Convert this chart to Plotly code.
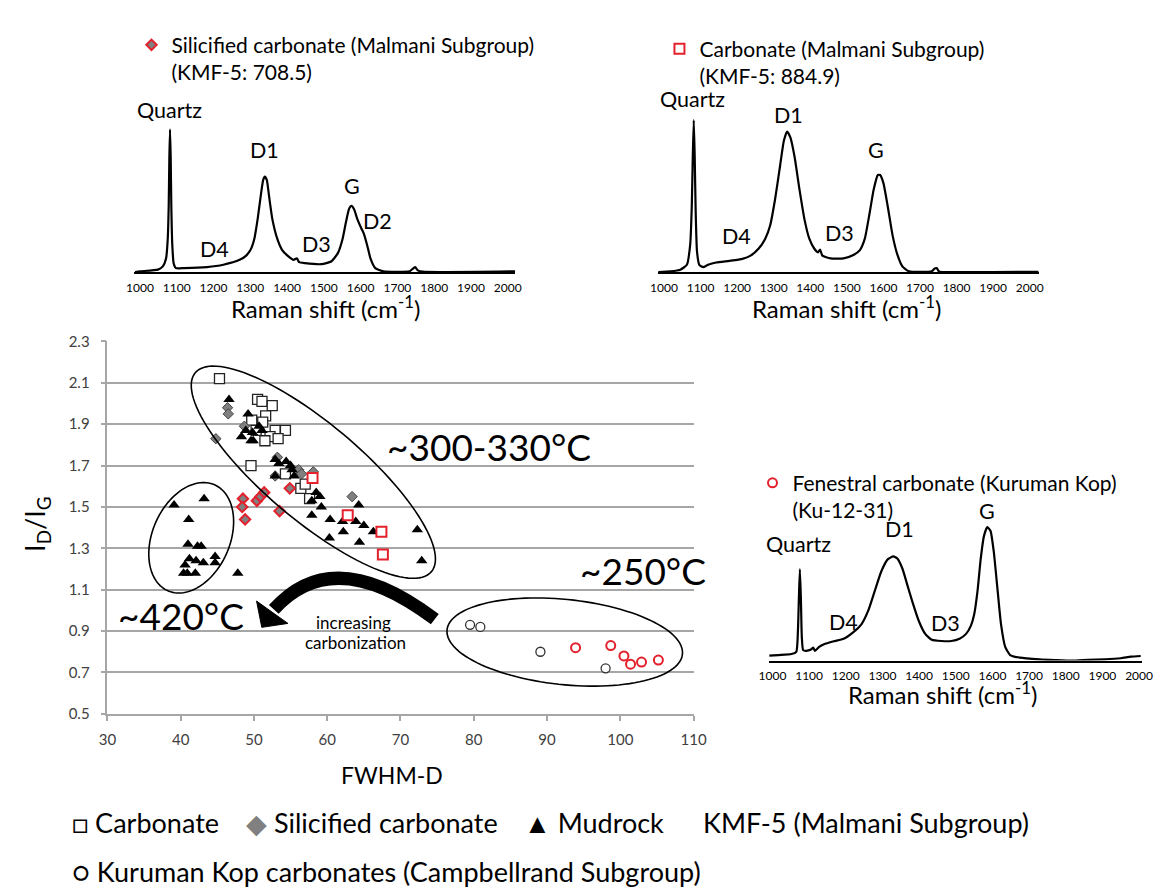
import numpy as np
import plotly.graph_objects as go

W, H = 1173, 893
FONT = "Lato"

# ---------------- I_D/I_G versus FWHM-D ----------------
carb_fwhm = [45.3, 50.5, 51.1, 52.5, 51.6, 49.7, 51.2, 50.3, 52.9, 54.3, 52.2, 53.3, 51.5, 49.6, 54.3, 56.4, 57.0, 57.6]
carb_ratio = [2.12, 2.02, 2.01, 1.99, 1.94, 1.92, 1.91, 1.87, 1.87, 1.87, 1.84, 1.83, 1.82, 1.70, 1.66, 1.59, 1.61, 1.54]

carb884_fwhm = [58.0, 62.8, 67.4, 67.6]
carb884_ratio = [1.64, 1.46, 1.38, 1.27]

silic_fwhm = [46.4, 46.5, 44.8, 48.7, 53.2, 56.1, 56.5, 58.1, 63.4, 52.9]
silic_ratio = [1.98, 1.95, 1.83, 1.89, 1.74, 1.68, 1.66, 1.67, 1.55, 1.65]

silic708_fwhm = [48.5, 48.4, 48.8, 50.4, 50.9, 51.4, 53.5, 54.9]
silic708_ratio = [1.54, 1.50, 1.44, 1.53, 1.55, 1.57, 1.48, 1.59]

mud_fwhm = [46.6, 49.2, 48.9, 49.8, 51.1, 48.3, 49.9, 50.7, 49.6,
            52.9, 54.4, 55.0, 52.9, 55.5, 55.2, 53.4,
            58.5, 59.0, 57.9, 59.2, 57.9, 60.4, 62.1, 63.9, 64.3, 65.0, 62.2, 66.3, 60.3, 64.4, 72.3, 72.9,
            47.8,
            39.1, 43.2, 41.1, 41.0, 42.3, 42.8, 41.2, 42.1, 43.1, 44.7, 44.7, 40.6, 40.4, 40.9, 42.0]
mud_ratio = [2.02, 1.95, 1.87, 1.86, 1.87, 1.84, 1.82, 1.89, 1.82,
             1.73, 1.72, 1.70, 1.65, 1.65, 1.68, 1.71,
             1.57, 1.55, 1.53, 1.50, 1.46, 1.44, 1.43, 1.43, 1.51, 1.41, 1.38, 1.38, 1.35, 1.33, 1.39, 1.24,
             1.18,
             1.51, 1.54, 1.44, 1.32, 1.31, 1.31, 1.25, 1.24, 1.23, 1.26, 1.23, 1.22, 1.18, 1.18, 1.18]

kk_fwhm = [79.5, 80.9, 89.1, 98.0]
kk_ratio = [0.93, 0.92, 0.80, 0.72]

ku1231_fwhm = [93.9, 98.7, 100.5, 101.4, 102.9, 105.2]
ku1231_ratio = [0.82, 0.83, 0.78, 0.74, 0.75, 0.76]

x_ticks = list(range(30, 111, 10))
y_ticks = [0.5, 0.7, 0.9, 1.1, 1.3, 1.5, 1.7, 1.9, 2.1, 2.3]

# ---------------- Raman spectra (shift in cm-1, intensity a.u.) ----------------
s708_shift = [986.7, 1000, 1048.9, 1062.2, 1071.1, 1075.6, 1078.2, 1080, 1081.8, 1083.6, 1085.3, 1088,
              1091.6, 1097.8, 1120, 1182.2, 1226.7, 1271.1, 1288.9, 1300.4, 1311.1, 1320, 1328.9, 1335.1,
              1339.6, 1344.9, 1351.1, 1360, 1373.3, 1386.7, 1404.4, 1417.8, 1426.7, 1432.9, 1448.9, 1493.3,
              1520, 1537.8, 1551.1, 1560, 1568.9, 1575.1, 1582.2, 1591.1, 1601.8, 1608.9, 1617.8, 1626.7,
              1640, 1662.2, 1733.3, 1742.2, 1748.4, 1755.6, 1768.9, 2020]
s708_int = [0.3, 1.0, 2.7, 6.0, 14.3, 34.3, 67.7, 117.7, 146.0, 117.7, 67.7, 27.7,
            9.3, 4.3, 4.3, 5.3, 7.7, 12.7, 17.0, 22.7, 34.3, 54.3, 79.3, 94.3,
            97.7, 94.3, 77.7, 54.3, 34.3, 22.7, 16.0, 12.7, 14.3, 10.3, 9.3, 8.3,
            11.0, 19.3, 34.3, 51.0, 65.0, 67.7, 64.3, 54.3, 45.0, 39.3, 27.7, 14.3,
            4.3, 1.0, 1.0, 3.7, 5.3, 2.0, 0.6, 1.0]

s884_shift = [984, 1017.9, 1044.6, 1062.5, 1071.4, 1075.9, 1078.6, 1081.3, 1083.9, 1086.6, 1090.2, 1096.4,
              1107.1, 1120.5, 1142.9, 1178.6, 1214.3, 1236.6, 1258.9, 1276.8, 1290.2, 1303.6, 1317,
              1327.7, 1336.6, 1345.5, 1357.1, 1370.5, 1383.9, 1397.3, 1410.7, 1421.4, 1426.8, 1433,
              1455.4, 1491.1, 1517.9, 1535.7, 1549.1, 1562.5, 1573.2, 1584.8, 1591.1, 1600, 1611.6,
              1625, 1638.4, 1651.8, 1669.6, 1732.1, 1739.3, 1745.5, 1751.8, 1767.9, 2024]
s884_int = [0.3, 1.0, 2.7, 7.7, 27.7, 67.7, 117.7, 155.3, 117.7, 61.0, 21.0, 7.7,
            5.3, 7.7, 10.0, 11.7, 13.7, 17.0, 24.3, 34.3, 47.7, 74.3, 107.7,
            134.3, 143.7, 137.7, 117.7, 84.3, 54.3, 34.3, 24.3, 20.3, 23.3, 17.0,
            14.3, 14.3, 17.7, 22.7, 34.3, 61.0, 84.3, 99.3, 99.3, 91.0, 67.7,
            37.7, 17.7, 6.0, 1.0, 1.0, 3.7, 4.3, 1.0, 0.3, 0.5]

sku_shift = [991.1, 1016, 1051.6, 1065, 1069.5, 1072.1, 1074.8, 1077.5, 1080.1, 1083.7, 1091.7, 1105.1,
             1111.3, 1115.8, 1127.3, 1140.7, 1167.4, 1194.1, 1220.8, 1243.1, 1260.9, 1278.7, 1296.5,
             1314.3, 1329.5, 1341.1, 1354.4, 1367.8, 1381.1, 1398.9, 1416.7, 1434.6, 1461.3, 1488,
             1510.3, 1528.1, 1541.4, 1550.3, 1559.2, 1568.1, 1577, 1586, 1594.9, 1603.8, 1614.4,
             1623.4, 1634.9, 1648.3, 1675, 1728.4, 1770, 1817.5, 1860, 1906.5, 1950, 1977.8, 2004.5]
sku_int = [5.0, 5.7, 6.7, 9.0, 30.7, 64.0, 93.3, 64.0, 24.0, 10.7, 10.0, 11.3,
           13.3, 10.0, 14.0, 16.7, 19.7, 22.3, 29.0, 37.3, 50.7, 70.7, 90.7,
           103.3, 106.3, 104.0, 94.0, 77.3, 60.7, 40.7, 27.3, 21.3, 20.0, 20.0,
           22.3, 27.3, 35.7, 47.3, 70.7, 104.0, 127.3, 136.3, 132.3, 110.7, 70.7,
           37.3, 14.0, 5.7, 3.0, 1.3, 0.6, 0.0, 0.8, 1.3, 2.4, 4.0, 4.7]

shift_ticks = list(range(1000, 2001, 100))

# ---------------- layout boxes (page pixels) ----------------
def fx(px):
    return px / W

def fy(py):
    return 1 - py / H

MAIN = dict(left=98.4, right=696.8, top=338.3, bottom=718.3)
X_RANGE = [30, 110]
Y_RANGE = [0.5, 2.3]
SX = (MAIN["right"] - MAIN["left"]) / (X_RANGE[1] - X_RANGE[0])   # px per FWHM unit
SY = (MAIN["bottom"] - MAIN["top"]) / (Y_RANGE[1] - Y_RANGE[0])   # px per ratio unit

INSETS = [
    dict(left=126.0, right=515.0, base=267.7, top=114.0, rng=[985, 2021]),
    dict(left=660.7, right=1049.3, base=267.7, top=110.0, rng=[984, 2025]),
    dict(left=774.0, right=1155.0, base=664.0, top=515.0, rng=[991, 2009]),
]

RED = "#E3202B"
GRAY = "#808080"

fig = go.Figure()

fig.add_trace(go.Scatter(x=carb_fwhm, y=carb_ratio, mode="markers", name="Carbonate",
                         marker=dict(symbol="square", size=10, color="white", line=dict(color="#222", width=1.3)),
                         showlegend=False, xaxis="x", yaxis="y"))
fig.add_trace(go.Scatter(x=silic_fwhm, y=silic_ratio, mode="markers", name="Silicified carbonate",
                         marker=dict(symbol="diamond", size=8, color=GRAY, line=dict(color="#444", width=1)),
                         showlegend=False, xaxis="x", yaxis="y"))
fig.add_trace(go.Scatter(x=mud_fwhm, y=mud_ratio, mode="markers", name="Mudrock",
                         marker=dict(symbol="triangle-up", size=10, color="black", line=dict(width=0)),
                         showlegend=False, xaxis="x", yaxis="y"))
fig.add_trace(go.Scatter(x=silic708_fwhm, y=silic708_ratio, mode="markers",
                         name="Silicified carbonate (Malmani Subgroup)<br>(KMF-5: 708.5)",
                         marker=dict(symbol="diamond", size=8, color=GRAY, line=dict(color=RED, width=2)),
                         legend="legend", xaxis="x", yaxis="y"))
fig.add_trace(go.Scatter(x=carb884_fwhm, y=carb884_ratio, mode="markers",
                         name="Carbonate (Malmani Subgroup)<br>(KMF-5: 884.9)",
                         marker=dict(symbol="square", size=10, color="white", line=dict(color=RED, width=2)),
                         legend="legend2", xaxis="x", yaxis="y"))
fig.add_trace(go.Scatter(x=kk_fwhm, y=kk_ratio, mode="markers", name="Kuruman Kop carbonates",
                         marker=dict(symbol="circle", size=9, color="white", line=dict(color="#333", width=1.3)),
                         showlegend=False, xaxis="x", yaxis="y"))
fig.add_trace(go.Scatter(x=ku1231_fwhm, y=ku1231_ratio, mode="markers",
                         name="Fenestral carbonate (Kuruman Kop)<br>(Ku-12-31)",
                         marker=dict(symbol="circle", size=9, color="white", line=dict(color=RED, width=2)),
                         legend="legend3", xaxis="x", yaxis="y"))

# spectra
for i, (sx, si) in enumerate([(s708_shift, s708_int), (s884_shift, s884_int), (sku_shift, sku_int)]):
    n = i + 2
    fig.add_trace(go.Scatter(x=sx, y=si, mode="lines", showlegend=False,
                             line=dict(color="black", width=2.2, shape="spline", smoothing=0.5),
                             xaxis=f"x{n}", yaxis=f"y{n}", hoverinfo="skip"))

# ---------------- axes ----------------
axis_gray = "#A6A6A6"
tick_font = dict(family=FONT, size=15, color="#404040")
layout_axes = dict(
    xaxis=dict(domain=[fx(MAIN["left"]), fx(MAIN["right"])], range=X_RANGE, tickvals=x_ticks,
               showgrid=False, zeroline=False, showline=True, linecolor=axis_gray, linewidth=1.5,
               ticks="outside", ticklen=5, tickcolor=axis_gray, tickwidth=1.5, tickfont=tick_font,
               ticklabelstandoff=6, anchor="y", fixedrange=True),
    yaxis=dict(domain=[fy(MAIN["bottom"]), fy(MAIN["top"])], range=Y_RANGE, tickvals=y_ticks,
               tickformat=".1f", showgrid=True, gridcolor=axis_gray, gridwidth=1.5, zeroline=False,
               showline=True, linecolor=axis_gray, linewidth=1.5, ticks="outside", ticklen=5,
               tickcolor=axis_gray, tickwidth=1.5, tickfont=tick_font, ticklabelstandoff=8,
               anchor="x", fixedrange=True),
)
for i, box in enumerate(INSETS):
    n = i + 2
    height = box["base"] - box["top"]
    layout_axes[f"xaxis{n}"] = dict(
        domain=[fx(box["left"]), fx(box["right"])], range=box["rng"], tickvals=shift_ticks,
        showgrid=False, zeroline=False, showline=True, linecolor="black", linewidth=1.6,
        ticks="", tickfont=dict(family=FONT, size=12, color="black"), ticklabelstandoff=3,
        anchor=f"y{n}", fixedrange=True)
    layout_axes[f"yaxis{n}"] = dict(
        domain=[fy(box["base"]), fy(box["top"])], range=[0, height], visible=False,
        anchor=f"x{n}", fixedrange=True)

# ---------------- ellipses, arrow ----------------
def ellipse_path(cx, cy, a_px, b_px, angle_deg, n=120):
    t = np.linspace(0, 2 * np.pi, n)
    th = np.radians(angle_deg)
    ux, uy = a_px * np.cos(t), b_px * np.sin(t)
    dx = ux * np.cos(th) - uy * np.sin(th)
    dy = ux * np.sin(th) + uy * np.cos(th)
    xs = cx + dx / SX
    ys = cy - dy / SY
    return "M " + " L ".join(f"{x:.3f},{y:.4f}" for x, y in zip(xs, ys)) + " Z"

shapes = [
    dict(type="path", xref="x", yref="y", path=ellipse_path(58.11, 1.668, 157.6, 49.3, 40.1),
         line=dict(color="black", width=1.6)),
    dict(type="path", xref="x", yref="y", path=ellipse_path(41.44, 1.351, 59.1, 39.5, -66.2),
         line=dict(color="black", width=1.6)),
    dict(type="path", xref="x", yref="y", path=ellipse_path(92.42, 0.847, 120.8, 43.5, 5.9),
         line=dict(color="black", width=1.6)),
    # curved arrow body
    dict(type="path", xref="x", yref="y", path="M 74.69,0.9575 Q 60.90,1.329 52.71,1.005",
         line=dict(color="black", width=13)),
    # arrow head
    dict(type="path", xref="x", yref="y", path="M 50.36,1.045 L 51.07,0.918 L 54.64,0.937 Z",
         fillcolor="black", line=dict(color="black", width=1)),
]

# ---------------- text ----------------
def txt(px, py, text, size, **kw):
    d = dict(x=fx(px), y=fy(py), xref="paper", yref="paper", text=text, showarrow=False,
             font=dict(family=FONT, size=size, color="black"), xanchor="center", yanchor="middle")
    d.update(kw)
    return d

LBL = 21.5
ann = [
    txt(26, 524, "I<sub>D</sub>/I<sub>G</sub>", 27, textangle=-90),
    txt(389, 781, "FWHM-D", 23),
    txt(488, 445, "~300-330°C", 37),
    txt(645, 572, "~250°C", 37),
    txt(174, 618, "~420°C", 37),
    txt(350, 625, "increasing", 17),
    txt(352, 646, "carbonization", 17),
    # inset 1
    txt(161.7, 101.7, "Quartz", LBL), txt(259.3, 142.7, "D1", LBL), txt(348.3, 180, "G", LBL),
    txt(374, 215, "D2", LBL), txt(311.7, 239.3, "D3", LBL), txt(207.3, 244.3, "D4", LBL),
    txt(321, 303, "Raman shift (cm<sup>-1</sup>)", 24),
    # inset 2
    txt(696, 90.7, "Quartz", LBL), txt(793.3, 106.7, "D1", LBL), txt(882.7, 143.3, "G", LBL),
    txt(845.7, 227.7, "D3", LBL), txt(741, 231, "D4", LBL),
    txt(853, 303, "Raman shift (cm<sup>-1</sup>)", 24),
    # inset 3
    txt(804, 545, "Quartz", LBL), txt(906.7, 530, "D1", LBL), txt(996.7, 511.7, "G", LBL),
    txt(954, 626, "D3", LBL), txt(850, 625, "D4", LBL),
    txt(951, 697, "Raman shift (cm<sup>-1</sup>)", 24),
    # symbol key
    txt(60, 829, "□ Carbonate", 27, xanchor="left"),
    txt(238, 829, "<span style='color:#808080'>◆</span> Silicified carbonate", 27, xanchor="left"),
    txt(522, 829, "▲ Mudrock", 27, xanchor="left"),
    txt(704, 829, "KMF-5 (Malmani Subgroup)", 27, xanchor="left"),
    txt(60, 879, "○ Kuruman Kop carbonates (Campbellrand Subgroup)", 27, xanchor="left"),
]

def legend_box(px, py, size):
    return dict(x=fx(px), y=fy(py), bgcolor="rgba(0,0,0,0)", borderwidth=0,
                font=dict(family=FONT, size=size, color="black"),
                xanchor="left", yanchor="top", valign="top", itemclick=False, itemdoubleclick=False)

fig.update_layout(
    width=W, height=H, margin=dict(l=0, r=0, t=0, b=0),
    paper_bgcolor="white", plot_bgcolor="white",
    font=dict(family=FONT, color="black"),
    shapes=shapes, annotations=ann,
    legend=legend_box(123, 15, 21),
    legend2=legend_box(662, 19, 21),
    legend3=legend_box(757, 462, 21),
    **layout_axes,
)

fig.write_html("out.html")
